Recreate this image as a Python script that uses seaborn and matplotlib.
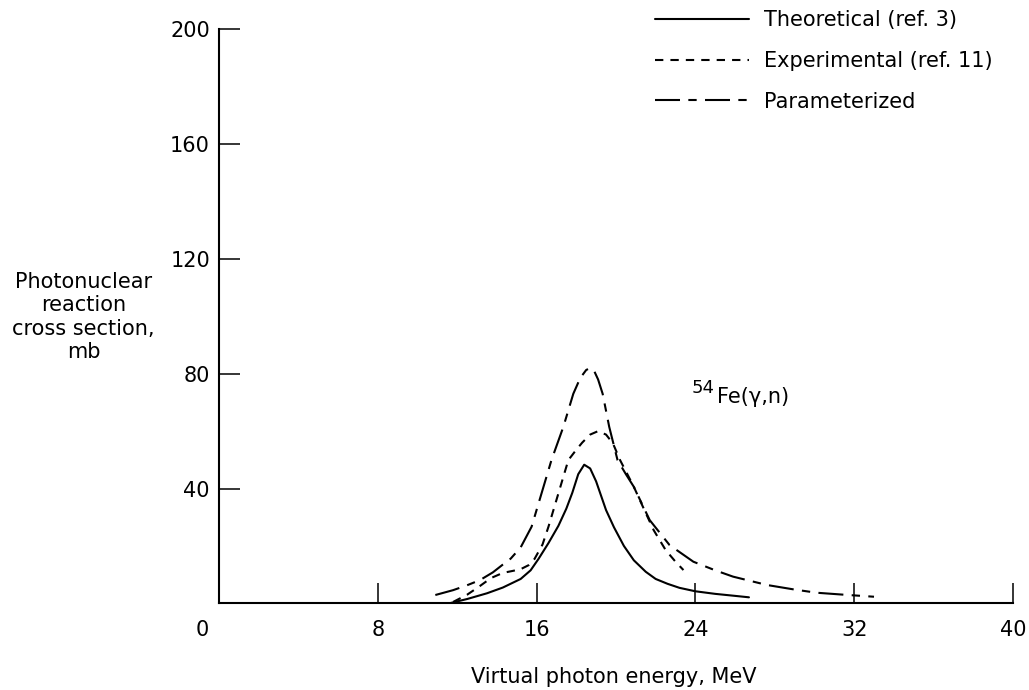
import numpy as np
import pandas as pd
import matplotlib
matplotlib.use("Agg")
import matplotlib.pyplot as plt
import matplotlib.transforms as mtransforms
import seaborn as sns

# values (energy in MeV, cross section in mb)
theo_x = [11.6, 12.5, 13.5, 14.3, 15.2, 15.7, 16.1, 16.6, 17.1, 17.5, 17.8, 18.1,
          18.4, 18.7, 19.0, 19.2, 19.5, 19.9, 20.4, 20.9, 21.5, 22.0, 22.6, 23.2,
          24.0, 25.0, 26.0, 26.7]
theo_y = [0.0, 1.5, 3.5, 5.5, 8.5, 11.5, 15.5, 21.0, 27.0, 33.0, 38.5, 45.0,
          48.3, 47.0, 42.5, 38.5, 32.5, 26.5, 20.0, 15.0, 11.0, 8.5, 6.8, 5.4,
          4.2, 3.3, 2.6, 2.1]

exp_x = [11.8, 12.5, 13.1, 13.7, 14.3, 14.8, 15.2, 15.6, 15.9, 16.3, 16.6, 17.1,
         17.6, 18.0, 18.3, 18.7, 19.1, 19.5, 19.85, 20.2, 20.5, 20.9, 21.4, 21.9,
         22.5, 23.0, 23.4]
exp_y = [0.5, 3.0, 5.8, 8.8, 10.6, 11.3, 11.9, 13.3, 15.5, 20.5, 26.7, 38.3,
         49.9, 53.5, 56.0, 58.8, 60.0, 58.8, 55.7, 50.0, 46.0, 40.6, 33.0, 25.5,
         18.6, 14.5, 11.6]

par_x = [10.9, 11.8, 12.5, 13.15, 13.8, 14.3, 14.7, 15.2, 15.75, 16.25, 16.75,
         17.35, 17.85, 18.2, 18.5, 18.7, 18.9, 19.1, 19.33, 19.66, 20.08, 20.5,
         20.9, 21.7, 22.7, 23.9, 25.0, 25.9, 27.6, 29.0, 30.1, 31.5, 33.0]
par_y = [2.9, 4.6, 6.3, 8.1, 10.8, 13.5, 15.6, 19.5, 26.7, 38.3, 49.9,
         61.5, 73.0, 78.5, 81.3, 82.0, 81.0, 78.0, 73.0, 61.5, 49.9, 45.0,
         40.6, 29.0, 20.3, 14.5, 11.5, 9.3, 6.4, 4.8, 3.7, 3.0, 2.3]

labels = ["Theoretical (ref. 3)", "Experimental (ref. 11)", "Parameterized"]
x_ticks = [0, 8, 16, 24, 32, 40]
y_ticks = [40, 80, 120, 160, 200]

sns.set_theme(style="white")
plt.rcParams["font.family"] = ["DejaVu Sans"]
plt.rcParams["text.color"] = "black"
plt.rcParams["axes.labelcolor"] = "black"

fig = plt.figure(figsize=(10.29, 6.9), dpi=100)
ax = fig.add_axes([0.2128, 0.1256, 0.7716, 0.8319])

styles = ["-", (0, (4, 3.4)), (0, (12, 4, 4, 4))]
series = [(theo_x, theo_y), (exp_x, exp_y), (par_x, par_y)]
for (xs, ys), ls, lab in zip(series, styles, labels):
    sns.lineplot(x=xs, y=ys, ax=ax, color="black", linewidth=1.5,
                 linestyle=ls, label=lab, legend=False)

ax.set_xlim(0, 40)
ax.set_ylim(0, 200)
ax.set_xticks(x_ticks)
ax.set_yticks(y_ticks)
ax.tick_params(axis="x", bottom=True, direction="in", length=14.5, width=1.1,
               pad=12, labelsize=15, colors="black")
ax.tick_params(axis="y", left=True, direction="in", length=15, width=1.1,
               pad=6.5, labelsize=15, colors="black")
ax.set_xlabel("")
ax.set_ylabel("")

# the "0" label sits a little left of the corner in the original
zero_lab = ax.get_xticklabels()[0]
zero_lab.set_transform(zero_lab.get_transform() +
                       mtransforms.ScaledTranslation(-17 / 100, 0, fig.dpi_scale_trans))

for side in ["top", "right"]:
    ax.spines[side].set_visible(False)
for side in ["left", "bottom"]:
    ax.spines[side].set_color("black")
    ax.spines[side].set_linewidth(1.5)

ax.legend(handles=ax.get_lines(), labels=labels, frameon=False,
          loc="upper left", bbox_to_anchor=(655 / 1029, 1 - 10 / 690),
          bbox_transform=fig.transFigure, borderpad=0, borderaxespad=0,
          handlelength=4.5, handletextpad=0.75, labelspacing=1.0,
          fontsize=15)

ax.text(23.8, 73.2, "54", fontsize=13, va="baseline", ha="left")
ax.text(25.07, 69.8, "Fe(\u03b3,n)", fontsize=15, va="baseline", ha="left")

fig.text(0.0812, 0.5406, "Photonuclear\nreaction\ncross section,\nmb",
         ha="center", va="center", fontsize=15, linespacing=1.2)
fig.text(614 / 1029, 1 - 677 / 690, "Virtual photon energy, MeV",
         ha="center", va="center", fontsize=15)

fig.savefig("out.png", dpi=100)
